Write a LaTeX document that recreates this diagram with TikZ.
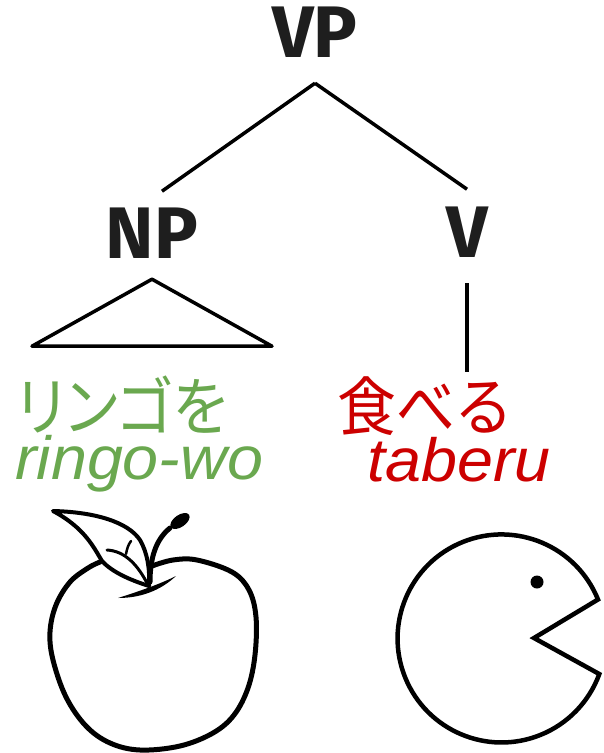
\documentclass[tikz,border=0pt]{standalone}
\usepackage{fontspec}
\newfontfamily\catfont{Fira Sans}
\newfontfamily\kanafont{Noto Sans CJK JP}[RawFeature=+palt, FakeStretch=0.92]
\newfontfamily\kanjifont{Noto Sans CJK JP}[FakeStretch=0.92]
\newfontfamily\romajifont{Liberation Sans}[FakeStretch=1.06]
\definecolor{nounGreen}{HTML}{6AA84F}
\definecolor{verbRed}{HTML}{CC0000}
\definecolor{catGray}{HTML}{1E1E1E}

\begin{document}
\begin{tikzpicture}[
    x=1pt, y=-1pt,
    cat/.style={anchor=base, inner sep=0pt, text=catGray,
        font=\catfont\bfseries\fontsize{73}{73}\selectfont},
    branch/.style={line width=3.5pt},
    kana/.style={anchor=base west, inner sep=0pt, text depth=0pt,
        font=\fontsize{64}{64}\selectfont},
    romaji/.style={anchor=base west, inner sep=0pt,
        font=\romajifont\itshape\fontsize{61}{61}\selectfont},
    ink/.style={line width=5pt, line cap=round, line join=round}
]
    \useasboundingbox (0,0) rectangle (604,753);

    % Root node
    \node[cat] (VP) at (315,57) {VP};
    % Level 1
    \node[cat] (NP) at (152,258) {NP};
    \node[cat] (V) at (467,257) {V};
    % Words
    \node[kana, text=nounGreen] (ringo-kana) at (17,430) {\kanafont リンゴを};
    \node[romaji, text=nounGreen] (ringo) at (15,479) {ringo-wo};
    \node[kana, text=verbRed] (taberu-kana) at (337,430) {\kanjifont 食べる};
    \node[romaji, text=verbRed] (taberu) at (367,481) {taberu};

    % Branches
    \draw[branch] ([yshift=-26pt]VP.south) -- ([xshift=10pt,yshift=16pt]NP.north);
    \draw[branch] ([yshift=-26pt]VP.south) -- ([yshift=17pt]V.north);
    \draw[branch, line join=round] ([yshift=-21pt]NP.south) -- ++(-120,67) -- ++(240,0) -- cycle;
    \draw[branch] ([yshift=-26pt]V.south) -- ([yshift=4pt]V.south |- taberu-kana.north);

    % Apple body
    \draw[ink] plot[smooth, tension=0.6] coordinates {(100,562) (88,568) (70,582) (56,605)
        (50,632) (53,660) (66,697) (86,726) (110,743) (140,750) (180,746) (213,733)
        (234,715) (248,688) (255,655) (256,617) (249,590) (232,572) (197,560) (173,560) (152,566)};
    % Leaf
    \filldraw[ink, line width=4pt, fill=white] (53,511) .. controls (95,512) and (128,522) .. (140,540)
        .. controls (147,552) and (150,568) .. (149,586)
        .. controls (130,580) and (112,572) .. (102,561)
        .. controls (94,548) and (85,528) .. (53,511) -- cycle;
    \draw[line width=3pt, line cap=round] (107,550) .. controls (125,551) and (138,565) .. (148,585);
    \draw[line width=2.5pt, line cap=round] (126,554) .. controls (127,549) and (128,545) .. (131,541);
    % Stem
    \draw[line width=5pt, line cap=round] (150,582) .. controls (150,560) and (155,540) .. (170,528);
    \fill[rotate around={35:(180,521)}] (180,521) ellipse (11 and 6);
    % Sepal under the leaf
    \fill (118,598) .. controls (140,591) and (160,584) .. (176,576)
        .. controls (160,591) and (140,598) .. (118,598) -- cycle;

    % Pac-Man
    \draw[ink, line width=4.5pt, line join=miter] (534,638) -- (598,599.5)
        arc[start angle=-22, end angle=-340, radius=104] -- cycle;
    \fill (537,582) circle (6.5);
\end{tikzpicture}
\end{document}
